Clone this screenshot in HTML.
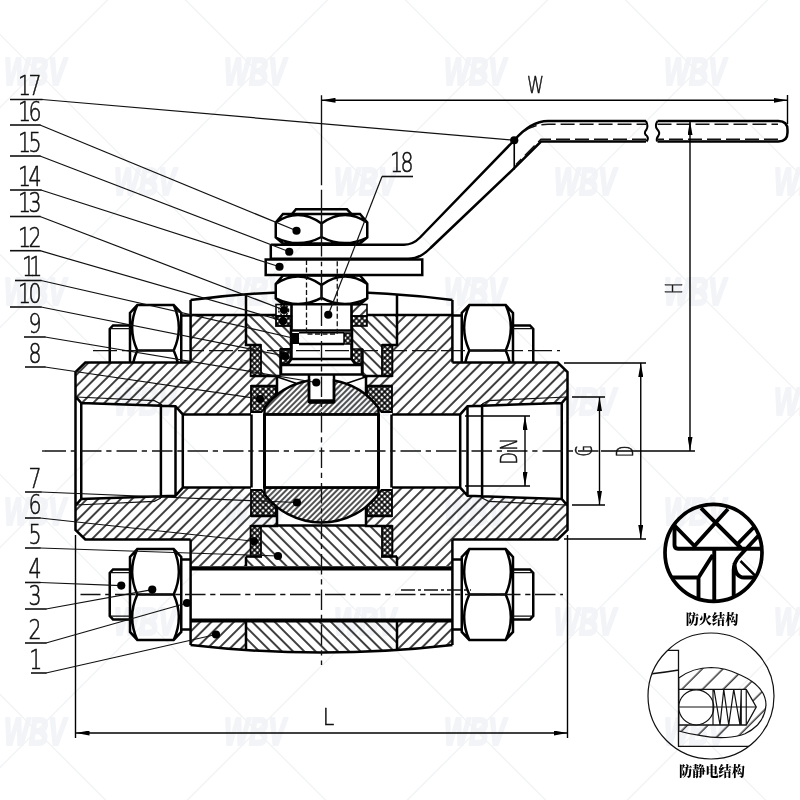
<!DOCTYPE html>
<html lang="zh"><head><meta charset="utf-8"><title>三片式球阀结构图</title>
<style>
html,body{margin:0;padding:0;background:#fff;}
body{width:800px;height:800px;overflow:hidden;font-family:"Liberation Sans","Noto Sans CJK SC",sans-serif;}
svg{display:block;will-change:transform;}
.k{fill:none;stroke:#000;stroke-width:2.5;stroke-linejoin:miter;stroke-linecap:butt;}
.k3{fill:none;stroke:#000;stroke-width:3;}
.m{fill:none;stroke:#000;stroke-width:1.5;}
.t{fill:none;stroke:#111;stroke-width:1.2;}
.dm{stroke-width:1.4;stroke:#000;}
.c{fill:none;stroke:#111;stroke-width:1.35;stroke-dasharray:22 4 4 4;}
.d{fill:none;stroke:#111;stroke-width:1.3;stroke-dasharray:5 2.5;}
.w{fill:#fff;stroke:none;}
.num{font-family:"DejaVu Sans","Liberation Sans",sans-serif;font-weight:200;font-size:25.7px;fill:#111;stroke:#111;stroke-width:0.55;}
.cn{font-family:"Liberation Serif","Noto Serif CJK SC",serif;font-weight:900;font-size:13.2px;fill:#000;text-anchor:middle;}
.wm{font-family:"Liberation Sans",sans-serif;font-weight:bold;font-style:italic;font-size:38px;fill:#f2f4f7;stroke:#f2f4f7;stroke-width:2.2;stroke-linejoin:round;text-anchor:middle;}
.wl{fill:none;stroke:#f2f3f5;stroke-width:1.5;}
.dot{fill:#000;}
</style></head><body>
<svg width="800" height="800" viewBox="0 0 800 800">
<defs>
<pattern id="hA" patternUnits="userSpaceOnUse" width="7.95" height="10" patternTransform="rotate(45)"><line x1="1" y1="0" x2="1" y2="10" stroke="#000" stroke-width="1.5"/></pattern>
<pattern id="hB" patternUnits="userSpaceOnUse" width="7.95" height="10" patternTransform="rotate(-45)"><line x1="1" y1="0" x2="1" y2="10" stroke="#000" stroke-width="1.5"/></pattern>
<pattern id="hC" patternUnits="userSpaceOnUse" width="4.0" height="10" patternTransform="rotate(45)"><line x1="1" y1="0" x2="1" y2="10" stroke="#000" stroke-width="1.35"/></pattern>
<pattern id="hX" patternUnits="userSpaceOnUse" width="4" height="4" patternTransform="rotate(45)"><path d="M0,1H4M1,0V4" stroke="#000" stroke-width="1.6" fill="none"/></pattern>
<pattern id="hD" patternUnits="userSpaceOnUse" width="14.6" height="10" patternTransform="rotate(45)"><line x1="6" y1="0" x2="6" y2="10" stroke="#000" stroke-width="1.15"/></pattern>
<marker id="ar" viewBox="0 0 14 5" refX="14" refY="2.5" markerWidth="14" markerHeight="5" orient="auto-start-reverse" markerUnits="userSpaceOnUse"><path d="M0,0L14,2.5L0,5Z" fill="#000"/></marker>
</defs>
<rect width="800" height="800" fill="#fff"/>
<g id="wm">
<text class="wm" x="35" y="84.5" textLength="62" lengthAdjust="spacingAndGlyphs">WBV</text>
<text class="wm" x="255" y="84.5" textLength="62" lengthAdjust="spacingAndGlyphs">WBV</text>
<text class="wm" x="475" y="84.5" textLength="62" lengthAdjust="spacingAndGlyphs">WBV</text>
<text class="wm" x="695" y="84.5" textLength="62" lengthAdjust="spacingAndGlyphs">WBV</text>
<text class="wm" x="145" y="194.5" textLength="62" lengthAdjust="spacingAndGlyphs">WBV</text>
<text class="wm" x="365" y="194.5" textLength="62" lengthAdjust="spacingAndGlyphs">WBV</text>
<text class="wm" x="585" y="194.5" textLength="62" lengthAdjust="spacingAndGlyphs">WBV</text>
<text class="wm" x="805" y="194.5" textLength="62" lengthAdjust="spacingAndGlyphs">WBV</text>
<text class="wm" x="35" y="304.5" textLength="62" lengthAdjust="spacingAndGlyphs">WBV</text>
<text class="wm" x="255" y="304.5" textLength="62" lengthAdjust="spacingAndGlyphs">WBV</text>
<text class="wm" x="475" y="304.5" textLength="62" lengthAdjust="spacingAndGlyphs">WBV</text>
<text class="wm" x="695" y="304.5" textLength="62" lengthAdjust="spacingAndGlyphs">WBV</text>
<text class="wm" x="145" y="414.5" textLength="62" lengthAdjust="spacingAndGlyphs">WBV</text>
<text class="wm" x="365" y="414.5" textLength="62" lengthAdjust="spacingAndGlyphs">WBV</text>
<text class="wm" x="585" y="414.5" textLength="62" lengthAdjust="spacingAndGlyphs">WBV</text>
<text class="wm" x="805" y="414.5" textLength="62" lengthAdjust="spacingAndGlyphs">WBV</text>
<text class="wm" x="35" y="524.5" textLength="62" lengthAdjust="spacingAndGlyphs">WBV</text>
<text class="wm" x="255" y="524.5" textLength="62" lengthAdjust="spacingAndGlyphs">WBV</text>
<text class="wm" x="475" y="524.5" textLength="62" lengthAdjust="spacingAndGlyphs">WBV</text>
<text class="wm" x="695" y="524.5" textLength="62" lengthAdjust="spacingAndGlyphs">WBV</text>
<text class="wm" x="145" y="634.5" textLength="62" lengthAdjust="spacingAndGlyphs">WBV</text>
<text class="wm" x="365" y="634.5" textLength="62" lengthAdjust="spacingAndGlyphs">WBV</text>
<text class="wm" x="585" y="634.5" textLength="62" lengthAdjust="spacingAndGlyphs">WBV</text>
<text class="wm" x="805" y="634.5" textLength="62" lengthAdjust="spacingAndGlyphs">WBV</text>
<text class="wm" x="35" y="744.5" textLength="62" lengthAdjust="spacingAndGlyphs">WBV</text>
<text class="wm" x="255" y="744.5" textLength="62" lengthAdjust="spacingAndGlyphs">WBV</text>
<text class="wm" x="475" y="744.5" textLength="62" lengthAdjust="spacingAndGlyphs">WBV</text>
<text class="wm" x="695" y="744.5" textLength="62" lengthAdjust="spacingAndGlyphs">WBV</text>
<path class="wl" d="M-924.5,-10L-104.5,810 M-704.5,-10L115.5,810 M-484.5,-10L335.5,810 M-264.5,-10L555.5,810 M-44.5,-10L775.5,810 M175.5,-10L995.5,810 M395.5,-10L1215.5,810 M615.5,-10L1435.5,810 M835.5,-10L1655.5,810 M117.5,-10L-702.5,810 M337.5,-10L-482.5,810 M557.5,-10L-262.5,810 M777.5,-10L-42.5,810 M997.5,-10L177.5,810 M1217.5,-10L397.5,810 M1437.5,-10L617.5,810 M1657.5,-10L837.5,810"/>
</g>
<path d="M75.50,372.00 L85.30,362.60 L190.60,362.60 L190.60,315.00 L246.00,315.00 L246.00,345.00 L250.60,345.00 L250.60,376.00 L277.00,376.00 L277.00,386.00 L251.00,386.00 L251.00,414.40 L182.80,414.40 L175.50,406.20 L81.25,403.00 L75.50,396.40Z" fill="url(#hA)"/>
<path d="M567.50,372.00 L557.70,362.60 L452.40,362.60 L452.40,315.00 L397.00,315.00 L397.00,345.00 L392.40,345.00 L392.40,376.00 L366.00,376.00 L366.00,386.00 L392.00,386.00 L392.00,414.40 L460.20,414.40 L467.50,406.20 L561.75,403.00 L567.50,396.40Z" fill="url(#hA)"/>
<path d="M75.50,530.00 L85.30,539.40 L190.60,539.40 L190.60,566.00 L246.00,566.00 L246.00,557.00 L250.60,557.00 L250.60,526.00 L277.00,526.00 L277.00,516.00 L251.00,516.00 L251.00,487.60 L182.80,487.60 L175.50,495.80 L81.25,499.00 L75.50,505.60Z" fill="url(#hA)"/>
<path d="M567.50,530.00 L557.70,539.40 L452.40,539.40 L452.40,566.00 L397.00,566.00 L397.00,557.00 L392.40,557.00 L392.40,526.00 L366.00,526.00 L366.00,516.00 L392.00,516.00 L392.00,487.60 L460.20,487.60 L467.50,495.80 L561.75,499.00 L567.50,505.60Z" fill="url(#hA)"/>
<path d="M190.60,621.00 L246.00,621.00 L246.00,650.01 L190.60,645.00Z" fill="url(#hA)"/>
<path d="M452.40,621.00 L397.00,621.00 L397.00,650.01 L452.40,645.00Z" fill="url(#hA)"/>
<path d="M246.00,315.00 L276.00,315.00 L276.00,326.00 L291.00,326.00 L291.00,349.00 L280.60,349.00 L280.60,375.50 L261.00,375.50 L261.00,345.00 L246.00,345.00Z" fill="url(#hB)"/>
<path d="M397.00,315.00 L367.00,315.00 L367.00,326.00 L352.00,326.00 L352.00,349.00 L362.40,349.00 L362.40,375.50 L382.00,375.50 L382.00,345.00 L397.00,345.00Z" fill="url(#hB)"/>
<path d="M262.00,525.50 L381.00,525.50 L381.00,556.00 L397.00,556.00 L397.00,566.00 L246.00,566.00 L246.00,556.00 L262.00,556.00Z" fill="url(#hB)"/>
<path d="M246.00,621.00 L397.00,621.00 L397.00,650.01 L389.45,650.48 L381.90,650.91 L374.35,651.28 L366.80,651.60 L359.25,651.88 L351.70,652.10 L344.15,652.28 L336.60,652.40 L329.05,652.48 L321.50,652.50 L313.95,652.48 L306.40,652.40 L298.85,652.28 L291.30,652.10 L283.75,651.88 L276.20,651.60 L268.65,651.28 L261.10,650.91 L253.55,650.48 L246.00,650.01Z" fill="url(#hB)"/>
<path d="M264.5,414.4 L264.5,407.83 A71.5,71.5 0 0 1 309,380.60 L309,402 L334,402 L334,380.60 A71.5,71.5 0 0 1 378.5,407.83 L378.5,414.4Z" fill="url(#hC)"/>
<path d="M264.5,487.6 L264.5,494.17 A71.5,71.5 0 0 0 378.5,494.17 L378.5,487.6Z" fill="url(#hC)"/>
<path d="M251,386 L276,386 L276,395.85 A71.5,71.5 0 0 0 261.57,412 L251,412Z" class="k" style="fill:url(#hX);stroke-width:1.8"/>
<path d="M392.0,386 L367.0,386 L367.0,395.85 A71.5,71.5 0 0 1 381.43,412 L392.0,412Z" class="k" style="fill:url(#hX);stroke-width:1.8"/>
<path d="M251,516.0 L276,516.0 L276,506.15 A71.5,71.5 0 0 1 261.57,490.0 L251,490.0Z" class="k" style="fill:url(#hX);stroke-width:1.8"/>
<path d="M392.0,516.0 L367.0,516.0 L367.0,506.15 A71.5,71.5 0 0 0 381.43,490.0 L392.0,490.0Z" class="k" style="fill:url(#hX);stroke-width:1.8"/>
<rect x="250.6" y="345" width="10.40" height="31" class="k" style="fill:url(#hX);stroke-width:1.8"/>
<rect x="382.0" y="345" width="10.40" height="31" class="k" style="fill:url(#hX);stroke-width:1.8"/>
<rect x="250.6" y="526" width="10.40" height="30.5" class="k" style="fill:url(#hX);stroke-width:1.8"/>
<rect x="382.0" y="526" width="10.40" height="30.5" class="k" style="fill:url(#hX);stroke-width:1.8"/>
<rect x="276" y="304.5" width="15.5" height="11.5" class="k" style="fill:#fff;stroke-width:1.6"/>
<circle cx="283.7" cy="310.2" r="5" class="t" style="stroke-width:1.4;stroke-dasharray:2 1.2"/>
<rect x="276" y="316" width="15.5" height="10" class="k" style="fill:url(#hX);stroke-width:1.8"/>
<rect x="351.5" y="304.5" width="15.5" height="11.5" class="k" style="fill:url(#hA);stroke-width:1.6"/>
<rect x="351.5" y="316" width="15.5" height="10" class="k" style="fill:url(#hX);stroke-width:1.6"/>
<rect x="291.5" y="333" width="7.5" height="11" fill="#000"/>
<rect x="344.0" y="333" width="7.5" height="11" class="k" style="fill:url(#hX);stroke-width:1.5"/>
<path d="M280.6,349H291V359L287,363.5H280.6Z" class="k" style="fill:url(#hX);stroke-width:1.8"/>
<path d="M362.4,349H352.0V359L356.0,363.5H362.4Z" class="k" style="fill:url(#hX);stroke-width:1.6"/>
<path class="k" d="M190.60,362.60 L85.30,362.60 L75.50,372.00 L75.50,530.00 L85.30,539.40 L190.60,539.40 M75.50,396.40 L81.25,403.00 L175.50,406.20 L182.80,414.40 L251.00,414.40 M75.50,505.60 L81.25,499.00 L175.50,495.80 L182.80,487.60 L251.00,487.60 M81.25,403.00 L81.25,499.00 M160.90,404.00 L160.90,498.00 M175.50,406.20 L175.50,495.80 M182.80,414.40 L182.80,487.60 M190.60,362.60 L190.60,299.99 M190.60,315.00 L276.00,315.00 M246.00,294.32 L246.00,345.00 L261.00,345.00 M190.60,539.40 L190.60,645.00 M246.00,621.00 L246.00,650.01 M250.60,376.00 L280.60,376.00 M277.00,376.00 L277.00,395.04 M277.00,386.00 L251.00,386.00 M280.60,349.00 L280.60,375.00 M291.00,326.00 L291.00,349.00 M250.60,526.00 L277.00,526.00 L277.00,506.96 M277.00,516.00 L251.00,516.00 M246.00,556.50 L262.00,556.50 M246.00,556.50 L246.00,566.00 M251.50,414.40 L251.50,487.60"/>
<path class="k" transform="translate(643.0,0) scale(-1,1)" d="M190.60,362.60 L85.30,362.60 L75.50,372.00 L75.50,530.00 L85.30,539.40 L190.60,539.40 M75.50,396.40 L81.25,403.00 L175.50,406.20 L182.80,414.40 L251.00,414.40 M75.50,505.60 L81.25,499.00 L175.50,495.80 L182.80,487.60 L251.00,487.60 M81.25,403.00 L81.25,499.00 M160.90,404.00 L160.90,498.00 M175.50,406.20 L175.50,495.80 M182.80,414.40 L182.80,487.60 M190.60,362.60 L190.60,299.99 M190.60,315.00 L276.00,315.00 M246.00,294.32 L246.00,345.00 L261.00,345.00 M190.60,539.40 L190.60,645.00 M246.00,621.00 L246.00,650.01 M250.60,376.00 L280.60,376.00 M277.00,376.00 L277.00,395.04 M277.00,386.00 L251.00,386.00 M280.60,349.00 L280.60,375.00 M291.00,326.00 L291.00,349.00 M250.60,526.00 L277.00,526.00 L277.00,506.96 M277.00,516.00 L251.00,516.00 M246.00,556.50 L262.00,556.50 M246.00,556.50 L246.00,566.00 M251.50,414.40 L251.50,487.60"/>
<path class="t" d="M76.00,397.00 L154.40,400.60 L160.90,404.00"/>
<path class="t" transform="translate(643.0,0) scale(-1,1)" d="M76.00,397.00 L154.40,400.60 L160.90,404.00"/>
<path class="t" d="M76.00,505.00 L154.40,501.40 L160.90,498.00"/>
<path class="t" transform="translate(643.0,0) scale(-1,1)" d="M76.00,505.00 L154.40,501.40 L160.90,498.00"/>
<path class="k" d="M190.6,299.99 A1013,1013 0 0 1 452.4,299.99"/>
<path class="k" d="M190.6,645.00 A1146,1146 0 0 0 452.4,645.00"/>
<path class="k" d="M277,525.5H366.0"/>
<path class="k3" style="stroke-width:4.1" d="M190.6,568.4H452.4M190.6,620.5H452.4"/>
<path class="k" d="M264.5,414.4 L264.5,407.83 A71.5,71.5 0 0 1 309,380.60 L309,402 L334,402 L334,380.60 A71.5,71.5 0 0 1 378.5,407.83 L378.5,414.4Z" />
<path class="k" d="M264.5,487.6 L264.5,494.17 A71.5,71.5 0 0 0 378.5,494.17 L378.5,487.6Z" />
<path class="k3" d="M264.5,413.4V488.6M378.5,413.4V488.6"/>
<path class="k" d="M264.5,414.4H378.5M264.5,487.6H378.5" style="stroke-width:2.4"/>
<path class="m" d="M277.5,377L296,383.3M365.5,377L347.0,383.3"/>
<path class="m" d="M277.5,525.0L296,518.7M365.5,525.0L347.0,518.7" style="display:none"/>
<path class="k" d="M291.5,304.5V330.6H351.5V304.5 M299,344H344.0 M291.5,344V359H351.5V344 M291.5,359L287,365 M351.5,359L356.0,365 M281,365H362.0V374.5H281Z M309,375V400.5H334V375 M309,402.5H334"/>
<path class="m" d="M299,332.8H344.0"/>
<path class="w" d="M283,214H360L367.25,222.5V237.5L360,243.5H283L275.75,237.5V222.5Z"/>
<path class="k" d="M292,214L296,209.3H347L351.5,214"/>
<path class="k" d="M283,214H360.0L367.25,222.5V237.5L360.0,243.5H283L275.75,237.5V222.5Z M321.5,223.5V237.0 M275.75,222.5Q298.625,207 321.5,223.5 Q344.375,207 367.25,222.5 M275.75,237.5Q298.625,249.0 321.5,237.0 Q344.375,249.0 367.25,237.5"/>
<path class="w" d="M283,275.5H360L367.25,284V298.3L360,304.3H283L275.75,298.3V284Z"/>
<path class="k" d="M283,275.5H360.0L367.25,284.0V298.3L360.0,304.3H283L275.75,298.3V284.0Z M321.5,285.0V297.8 M275.75,284.0Q298.625,268.5 321.5,285.0 Q344.375,268.5 367.25,284.0 M275.75,298.3Q298.625,309.8 321.5,297.8 Q344.375,309.8 367.25,298.3"/>
<path class="k" d="M270.8,244.7H404 Q413,244.7 420,237.5 L514.25,140.25 Q531,121 548,121 H646 M657.5,121H778.5 Q787.5,121 787.5,130 V132.5 Q787.5,141.5 778.5,141.5 H657.5 M646,141.5H541 L512.75,169.7 L430.5,248 Q420,258.8 408,258.8 H270.8 V244.7"/>
<path class="k" style="stroke-width:2" d="M646,121 q2.5,5 0.5,8.5 q-3.5,4 0.5,6.5 q2,2.5 -0.5,5.5 M657.5,121 q-3,4.5 -0.5,8 q3.5,3.5 1.5,6.5 q-2.5,3 -1.5,6"/>
<path class="k" d="M514.25,140.25V169.7" style="stroke-width:1.6"/>
<path class="d" d="M524,131.5Q534,124.2 548,124.2H646M657.5,124.2H778M778,139.2H657.5M646,139.2H541L516,164.5" style="stroke-dasharray:14 5;stroke-width:1.5"/>
<path class="k" d="M265.7,259.6H422.25V275H265.7Z"/>
<path class="d" d="M306.5,260V334H337.25V260"/>
<clipPath id="cu"><rect x="0" y="0" width="800" height="362.6"/></clipPath>
<path class="k"  d="M137.3,548.9H173.7L181.25,556.9V631.9L173.7,639.9H137.3L130,631.9V556.9Z M137.3,594.4H173.7 M137.3,548.9Q127,571.65 137.3,594.4Q127,617.15 137.3,639.9 M173.7,548.9Q184,571.65 173.7,594.4Q184,617.15 173.7,639.9 M181.25,559.4H190.6 M181.25,629.4H190.6 M130,569.4H113L109.75,572.9V615.9L113,619.4H130"/>
<path class="t"  d="M110,572.6H130M110,616.1999999999999H130"/>
<g clip-path="url(#cu)"><path class="k"  d="M137.3,305.0H173.7L181.25,313.0V388.0L173.7,396.0H137.3L130,388.0V313.0Z M137.3,350.5H173.7 M137.3,305.0Q127,327.75 137.3,350.5Q127,373.25 137.3,396.0 M173.7,305.0Q184,327.75 173.7,350.5Q184,373.25 173.7,396.0 M181.25,315.5H190.6 M181.25,385.5H190.6 M130,325.5H113L109.75,329.0V372.0L113,375.5H130"/><path class="t"  d="M110,328.7H130M110,372.3H130"/></g>
<path class="k" transform="translate(643.0,0) scale(-1,1)" d="M137.3,548.9H173.7L181.25,556.9V631.9L173.7,639.9H137.3L130,631.9V556.9Z M137.3,594.4H173.7 M137.3,548.9Q127,571.65 137.3,594.4Q127,617.15 137.3,639.9 M173.7,548.9Q184,571.65 173.7,594.4Q184,617.15 173.7,639.9 M181.25,559.4H190.6 M181.25,629.4H190.6 M130,569.4H113L109.75,572.9V615.9L113,619.4H130"/>
<path class="t" transform="translate(643.0,0) scale(-1,1)" d="M110,572.6H130M110,616.1999999999999H130"/>
<g clip-path="url(#cu)"><path class="k" transform="translate(643.0,0) scale(-1,1)" d="M137.3,305.0H173.7L181.25,313.0V388.0L173.7,396.0H137.3L130,388.0V313.0Z M137.3,350.5H173.7 M137.3,305.0Q127,327.75 137.3,350.5Q127,373.25 137.3,396.0 M173.7,305.0Q184,327.75 173.7,350.5Q184,373.25 173.7,396.0 M181.25,315.5H190.6 M181.25,385.5H190.6 M130,325.5H113L109.75,329.0V372.0L113,375.5H130"/><path class="t" transform="translate(643.0,0) scale(-1,1)" d="M110,328.7H130M110,372.3H130"/></g>
<path class="c" d="M42,451.0H46" style="stroke-dasharray:none"/><path class="c" d="M45.5,451.0H601" style="stroke-dasharray:20.5 4.75 5.25 5"/>
<path class="c" d="M321.5,95.2V185.2M321.5,189.8V256.5M321.5,261.7V266.2" style="stroke-dasharray:none"/><path class="c" d="M321.5,270V665" style="stroke-dasharray:20.5 4.75 5.25 5"/>
<path class="c" d="M80.5,594.5H563" style="stroke-dasharray:20.5 4.7 5.2 4.6;stroke-dashoffset:0.5"/>
<path class="c" d="M401,590H471" style="stroke-dasharray:14 3 3 3"/>
<path class="c" d="M93,350.6H560" style="stroke-dasharray:24 5"/>
<path class="t dm" d="M321.5,100.3H787.5" marker-start="url(#ar)" marker-end="url(#ar)"/>
<path class="t dm" d="M787.5,95V124"/>
<path class="t dm" d="M690,121V451" marker-start="url(#ar)" marker-end="url(#ar)"/>
<path class="t dm" d="M601,451H695"/>
<path class="t dm" d="M75.5,535V738M567.5,535V738"/>
<path class="t dm" d="M75.5,733H567.5" marker-start="url(#ar)" marker-end="url(#ar)"/>
<path class="t dm" d="M564,363H646M564,539.0H646M572,397H605M572,505.0H605M465,416H530M465,486.0H530"/>
<path class="t dm" d="M640.75,363V539.0" marker-start="url(#ar)" marker-end="url(#ar)"/>
<path class="t dm" d="M599.5,397V505.0" marker-start="url(#ar)" marker-end="url(#ar)"/>
<path class="t dm" d="M525,416V486.0" marker-start="url(#ar)" marker-end="url(#ar)"/>
<path class="t" d="M42,99.5L514.25,140.25"/>
<path class="t" style="stroke-width:1.6" d="M10,99.5H42.5"/>
<circle class="dot" cx="514.25" cy="140.25" r="4.1"/>
<text class="num" transform="scale(0.8,1)" x="22.5 35.5" y="95.5" style="font-size:25.7px">17</text>
<path class="t" d="M40,125L296.5,230.75"/>
<path class="t" style="stroke-width:1.6" d="M10,125H40.5"/>
<circle class="dot" cx="296.5" cy="230.75" r="4.1"/>
<text class="num" transform="scale(0.8,1)" x="22.5 35.5" y="121" style="font-size:25.7px">16</text>
<path class="t" d="M40,156L289.25,251.75"/>
<path class="t" style="stroke-width:1.6" d="M10,156H40.5"/>
<circle class="dot" cx="289.25" cy="251.75" r="4.1"/>
<text class="num" transform="scale(0.8,1)" x="22.5 35.5" y="152" style="font-size:25.7px">15</text>
<path class="t" d="M41,190L279.5,266.75"/>
<path class="t" style="stroke-width:1.6" d="M10,190H41.5"/>
<circle class="dot" cx="279.5" cy="266.75" r="4.1"/>
<text class="num" transform="scale(0.8,1)" x="22.5 35.5" y="186" style="font-size:25.7px">14</text>
<path class="t" d="M40,216.5L284,310"/>
<path class="t" style="stroke-width:1.6" d="M10,216.5H40.5"/>
<circle class="dot" cx="284" cy="310" r="4.1"/>
<text class="num" transform="scale(0.8,1)" x="22.5 35.5" y="212.5" style="font-size:25.7px">13</text>
<path class="t" d="M40,250.7L283,321"/>
<path class="t" style="stroke-width:1.6" d="M10,250.7H40.5"/>
<circle class="dot" cx="283" cy="321" r="4.1"/>
<text class="num" transform="scale(0.8,1)" x="22.5 35.5" y="246.7" style="font-size:25.7px">12</text>
<path class="t" d="M41,280.5L295,338.5"/>
<path class="t" style="stroke-width:1.6" d="M15,280.5H41.5"/>
<circle class="dot" cx="295" cy="338.5" r="4.1"/>
<text class="num" transform="scale(0.8,1)" x="27.5 36.5" y="276.5" style="font-size:25.7px">11</text>
<path class="t" d="M41,307L285,356"/>
<path class="t" style="stroke-width:1.6" d="M10,307H41.5"/>
<circle class="dot" cx="285" cy="356" r="4.1"/>
<text class="num" transform="scale(0.8,1)" x="22.5 35.5" y="303" style="font-size:25.7px">10</text>
<path class="t" d="M45,337L316.25,382.5"/>
<path class="t" style="stroke-width:1.6" d="M24,337H45.5"/>
<circle class="dot" cx="316.25" cy="382.5" r="4.1"/>
<text class="num" transform="scale(0.8,1)" x="35.5" y="333" style="font-size:25.7px">9</text>
<path class="t" d="M45,367L260,399"/>
<path class="t" style="stroke-width:1.6" d="M25,367H45.5"/>
<circle class="dot" cx="260" cy="399" r="4.1"/>
<text class="num" transform="scale(0.8,1)" x="35.5" y="363" style="font-size:25.7px">8</text>
<path class="t" d="M41,492L297,502.5"/>
<path class="t" style="stroke-width:1.6" d="M25,492H41.5"/>
<circle class="dot" cx="297" cy="502.5" r="4.1"/>
<text class="num" transform="scale(0.8,1)" x="35.5" y="488" style="font-size:25.7px">7</text>
<path class="t" d="M40,518L254,541.25"/>
<path class="t" style="stroke-width:1.6" d="M25,518H40.5"/>
<circle class="dot" cx="254" cy="541.25" r="4.1"/>
<text class="num" transform="scale(0.8,1)" x="35.5" y="514" style="font-size:25.7px">6</text>
<path class="t" d="M40,548L278,556"/>
<path class="t" style="stroke-width:1.6" d="M25,548H40.5"/>
<circle class="dot" cx="278" cy="556" r="4.1"/>
<text class="num" transform="scale(0.8,1)" x="35.5" y="544" style="font-size:25.7px">5</text>
<path class="t" d="M40,582.5L121.25,585.6"/>
<path class="t" style="stroke-width:1.6" d="M25,582.5H40.5"/>
<circle class="dot" cx="121.25" cy="585.6" r="4.1"/>
<text class="num" transform="scale(0.8,1)" x="35.5" y="578.5" style="font-size:25.7px">4</text>
<path class="t" d="M46,609L152.25,589.6"/>
<path class="t" style="stroke-width:1.6" d="M25,609H46.5"/>
<circle class="dot" cx="152.25" cy="589.6" r="4.1"/>
<text class="num" transform="scale(0.8,1)" x="35.5" y="605" style="font-size:25.7px">3</text>
<path class="t" d="M46,643L187,603"/>
<path class="t" style="stroke-width:1.6" d="M25,643H46.5"/>
<circle class="dot" cx="187" cy="603" r="4.1"/>
<text class="num" transform="scale(0.8,1)" x="35.5" y="639" style="font-size:25.7px">2</text>
<path class="t" d="M46,673L216,634.5"/>
<path class="t" style="stroke-width:1.6" d="M31,673H46.5"/>
<circle class="dot" cx="216" cy="634.5" r="4.1"/>
<text class="num" transform="scale(0.8,1)" x="36.5" y="669" style="font-size:25.7px">1</text>
<path class="t" d="M382,176.5L328.25,314.75"/><path class="t" style="stroke-width:1.6" d="M382,176.5H413"/>
<circle class="dot" cx="328.25" cy="314.75" r="4.1"/>
<text class="num" transform="scale(0.8,1)" x="487.6 500.6" y="172.5" style="font-size:25.7px">18</text>
<text class="num" x="527" y="92.5" style="font-size:22.6px" textLength="17" lengthAdjust="spacingAndGlyphs">W</text>
<text class="num" x="322.8" y="725.3" style="font-size:23.5px" textLength="11.5" lengthAdjust="spacingAndGlyphs">L</text>
<text class="num" transform="translate(682,288.3) rotate(-90)" style="font-size:23px;text-anchor:middle" textLength="11.5" lengthAdjust="spacingAndGlyphs">H</text>
<text class="num" transform="translate(591.8,450.7) rotate(-90)" style="font-size:23.4px;text-anchor:middle" textLength="11.5" lengthAdjust="spacingAndGlyphs">G</text>
<text class="num" transform="translate(632.5,451.6) rotate(-90)" style="font-size:23.2px;text-anchor:middle" textLength="11.5" lengthAdjust="spacingAndGlyphs">D</text>
<text class="num" transform="translate(516.8,464.6) rotate(-90) scale(0.72,1)" x="0 19.6" y="0" style="font-size:22.6px">DN</text>
<clipPath id="c1"><circle cx="713.5" cy="552.8" r="48.6"/></clipPath>
<g clip-path="url(#c1)"><path class="k3" style="stroke-width:3.9;stroke-linejoin:round" d="M674.5,522V545Q674.5,548.7 678,548.7H765 M674.5,525.5L694.5,546L728,509 M701,508L741,548 M738.5,543L757,524 M760,534L740.5,555Q733.7,562 733.7,570V600 M734.5,563Q735,577.5 744,577.5H760 M714.25,549V605 M712.75,555L698.5,577.5V603 M660,577.5H698.5"/><path class="k" d="M740.5,561L756,576.5"/></g>
<circle cx="713.5" cy="552.8" r="48.5" class="k" style="stroke-width:3.7"/>
<text class="cn" x="712" y="624">防火结构</text>
<clipPath id="c2"><circle cx="711" cy="696" r="63"/></clipPath>
<g clip-path="url(#c2)"><path d="M678.75,678 Q693,667.5 711,667.5 Q726,668 737.5,673.75 Q748,678 755,683.75 Q766,693 766,705 Q765,717 757.5,725 Q752,730.5 745,733.75 Q737,737 726,737.5 Q712,738 701,735.6 Q689,734 678.75,731Z" class="t" style="fill:url(#hD)"/><path d="M678.75,689.4H746.25L756.25,707L746.25,725H678.75Z" class="t" style="fill:#fff;stroke-width:1.3"/><circle cx="696.25" cy="707.3" r="17.5" class="t" style="fill:#fff;stroke-width:1.25"/><path class="t" d="M678.75,707H756 M713,689.4V725 M741.25,689.4V725 M746.25,689.4V725 M714,689.4L720,725L723.75,689.4L728.75,725L733.75,689.4L740,725L741.25,689.4"/><path class="t" d="M660,650.3H678.5V746.3H762 M650,674Q664,672.5 678.75,670" style="stroke-width:1.3"/></g>
<circle cx="711" cy="696" r="63" class="t" style="stroke-width:1.2"/>
<text class="cn" x="712" y="776">防静电结构</text>
</svg></body></html>
